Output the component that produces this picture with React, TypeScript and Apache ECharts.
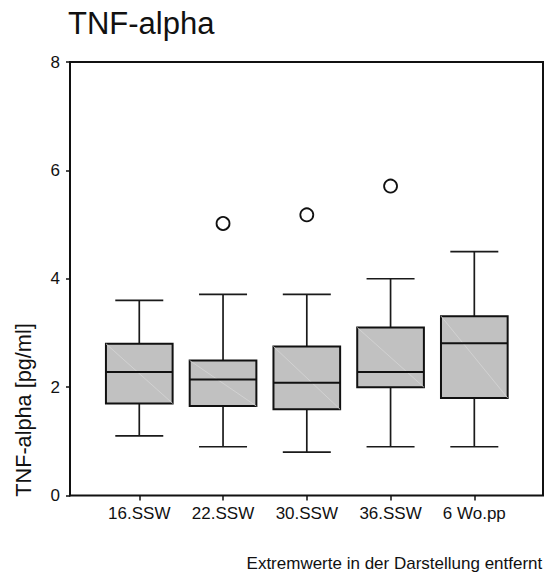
import React, { useEffect, useRef } from "react";
import * as echarts from "echarts";

const categories = ["16.SSW", "22.SSW", "30.SSW", "36.SSW", "6 Wo.pp"];
const whiskerLow = [1.1, 0.9, 0.8, 0.9, 0.9];
const quartile1 = [1.7, 1.65, 1.59, 2.0, 1.8];
const medians = [2.28, 2.14, 2.08, 2.28, 2.81];
const quartile3 = [2.8, 2.49, 2.75, 3.1, 3.31];
const whiskerHigh = [3.6, 3.71, 3.71, 4.0, 4.5];
const outlierCategory = ["22.SSW", "30.SSW", "36.SSW"];
const outlierValues = [5.02, 5.18, 5.71];
const yTicks = [0, 2, 4, 6, 8];

const FONT = "'Liberation Sans', Arial, Helvetica, sans-serif";

export default function App() {
  const ref = useRef<HTMLDivElement>(null);

  useEffect(() => {
    if (!ref.current) return;
    const chart = echarts.init(ref.current, null, { renderer: "svg" });

    const boxData = categories.map((c, i) => [
      i,
      whiskerLow[i],
      quartile1[i],
      medians[i],
      quartile3[i],
      whiskerHigh[i],
    ]);
    const outlierData = outlierCategory.map((c, i) => [
      categories.indexOf(c),
      outlierValues[i],
    ]);

    const renderItem = (params: any, api: any) => {
      const idx = api.value(0);
      const pMin = api.coord([idx, api.value(1)]);
      const pQ1 = api.coord([idx, api.value(2)]);
      const pMed = api.coord([idx, api.value(3)]);
      const pQ3 = api.coord([idx, api.value(4)]);
      const pMax = api.coord([idx, api.value(5)]);
      const band = api.size([1, 0])[0];
      const boxW = band * 0.796;
      const capW = band * 0.573;
      const cx = pMed[0];
      const lineStyle = { stroke: "#1a1a1a", lineWidth: 1.7 };
      return {
        type: "group",
        children: [
          {
            type: "line",
            shape: { x1: cx, y1: pQ3[1], x2: cx, y2: pMax[1] },
            style: lineStyle,
          },
          {
            type: "line",
            shape: { x1: cx, y1: pQ1[1], x2: cx, y2: pMin[1] },
            style: lineStyle,
          },
          {
            type: "line",
            shape: { x1: cx - capW / 2, y1: pMax[1], x2: cx + capW / 2, y2: pMax[1] },
            style: lineStyle,
          },
          {
            type: "line",
            shape: { x1: cx - capW / 2, y1: pMin[1], x2: cx + capW / 2, y2: pMin[1] },
            style: lineStyle,
          },
          {
            type: "rect",
            shape: { x: cx - boxW / 2, y: pQ3[1], width: boxW, height: pQ1[1] - pQ3[1] },
            style: { fill: "#c1c1c1", stroke: "#111", lineWidth: 2 },
          },
          {
            type: "line",
            shape: { x1: cx - boxW / 2, y1: pQ3[1], x2: cx + boxW / 2, y2: pQ1[1] },
            style: { stroke: "#d6d6d6", lineWidth: 0.8 },
          },
          {
            type: "line",
            shape: { x1: cx - boxW / 2, y1: pMed[1], x2: cx + boxW / 2, y2: pMed[1] },
            style: { stroke: "#111", lineWidth: 2 },
          },
        ],
      };
    };

    chart.setOption({
      animation: false,
      backgroundColor: "#fff",
      textStyle: { fontFamily: FONT },
      grid: [
        {
          left: 70,
          right: 3,
          top: 62,
          bottom: 77.5,
          show: true,
          borderColor: "#111",
          borderWidth: 2,
          backgroundColor: "transparent",
        },
        { left: 97.4, right: 29.8, top: 62, bottom: 77.5 },
      ],
      xAxis: [
        { type: "value", gridIndex: 0, show: false, min: 0, max: 1 },
        {
          type: "category",
          gridIndex: 1,
          data: categories,
          boundaryGap: true,
          axisLine: { show: false },
          axisTick: {
            show: true,
            alignWithLabel: true,
            length: 5,
            lineStyle: { color: "#111", width: 1.5 },
          },
          axisLabel: { color: "#111", fontSize: 17, margin: 9, fontFamily: FONT },
          splitLine: { show: false },
        },
      ],
      yAxis: [
        {
          type: "value",
          gridIndex: 0,
          min: yTicks[0],
          max: yTicks[yTicks.length - 1],
          interval: 2,
          axisLine: { show: true, lineStyle: { color: "#111", width: 2 } },
          axisTick: { show: true, length: 4, lineStyle: { color: "#111", width: 1.5 } },
          axisLabel: { color: "#111", fontSize: 17, margin: 10, fontFamily: FONT },
          splitLine: { show: false },
        },
        {
          type: "value",
          gridIndex: 1,
          min: yTicks[0],
          max: yTicks[yTicks.length - 1],
          show: false,
          splitLine: { show: false },
        },
      ],
      series: [
        {
          type: "custom",
          xAxisIndex: 1,
          yAxisIndex: 1,
          data: boxData,
          encode: { x: 0, y: [1, 2, 3, 4, 5] },
          renderItem,
          silent: true,
        },
        {
          type: "scatter",
          xAxisIndex: 1,
          yAxisIndex: 1,
          data: outlierData,
          symbol: "circle",
          symbolSize: 13,
          itemStyle: { color: "#fff", borderColor: "#111", borderWidth: 1.8, opacity: 1 },
          silent: true,
        },
      ],
      graphic: [
        {
          type: "text",
          x: 68,
          y: 23.1,
          style: {
            text: "TNF-alpha",
            fontSize: 31,
            fontFamily: FONT,
            fill: "#111",
            align: "left",
            verticalAlign: "middle",
          },
        },
        {
          type: "text",
          x: 23,
          y: 410,
          rotation: Math.PI / 2,
          style: {
            text: "TNF-alpha [pg/ml]",
            fontSize: 21.7,
            fontFamily: FONT,
            fill: "#111",
            align: "center",
            verticalAlign: "middle",
          },
        },
        {
          type: "text",
          x: 542.3,
          y: 563,
          style: {
            text: "Extremwerte in der Darstellung entfernt",
            fontSize: 17,
            fontFamily: FONT,
            fill: "#111",
            align: "right",
            verticalAlign: "middle",
          },
        },
      ],
    });

    return () => chart.dispose();
  }, []);

  return (
    <div
      ref={ref}
      style={{ position: "fixed", left: 0, top: 0, width: 546, height: 573, background: "#fff" }}
    />
  );
}
